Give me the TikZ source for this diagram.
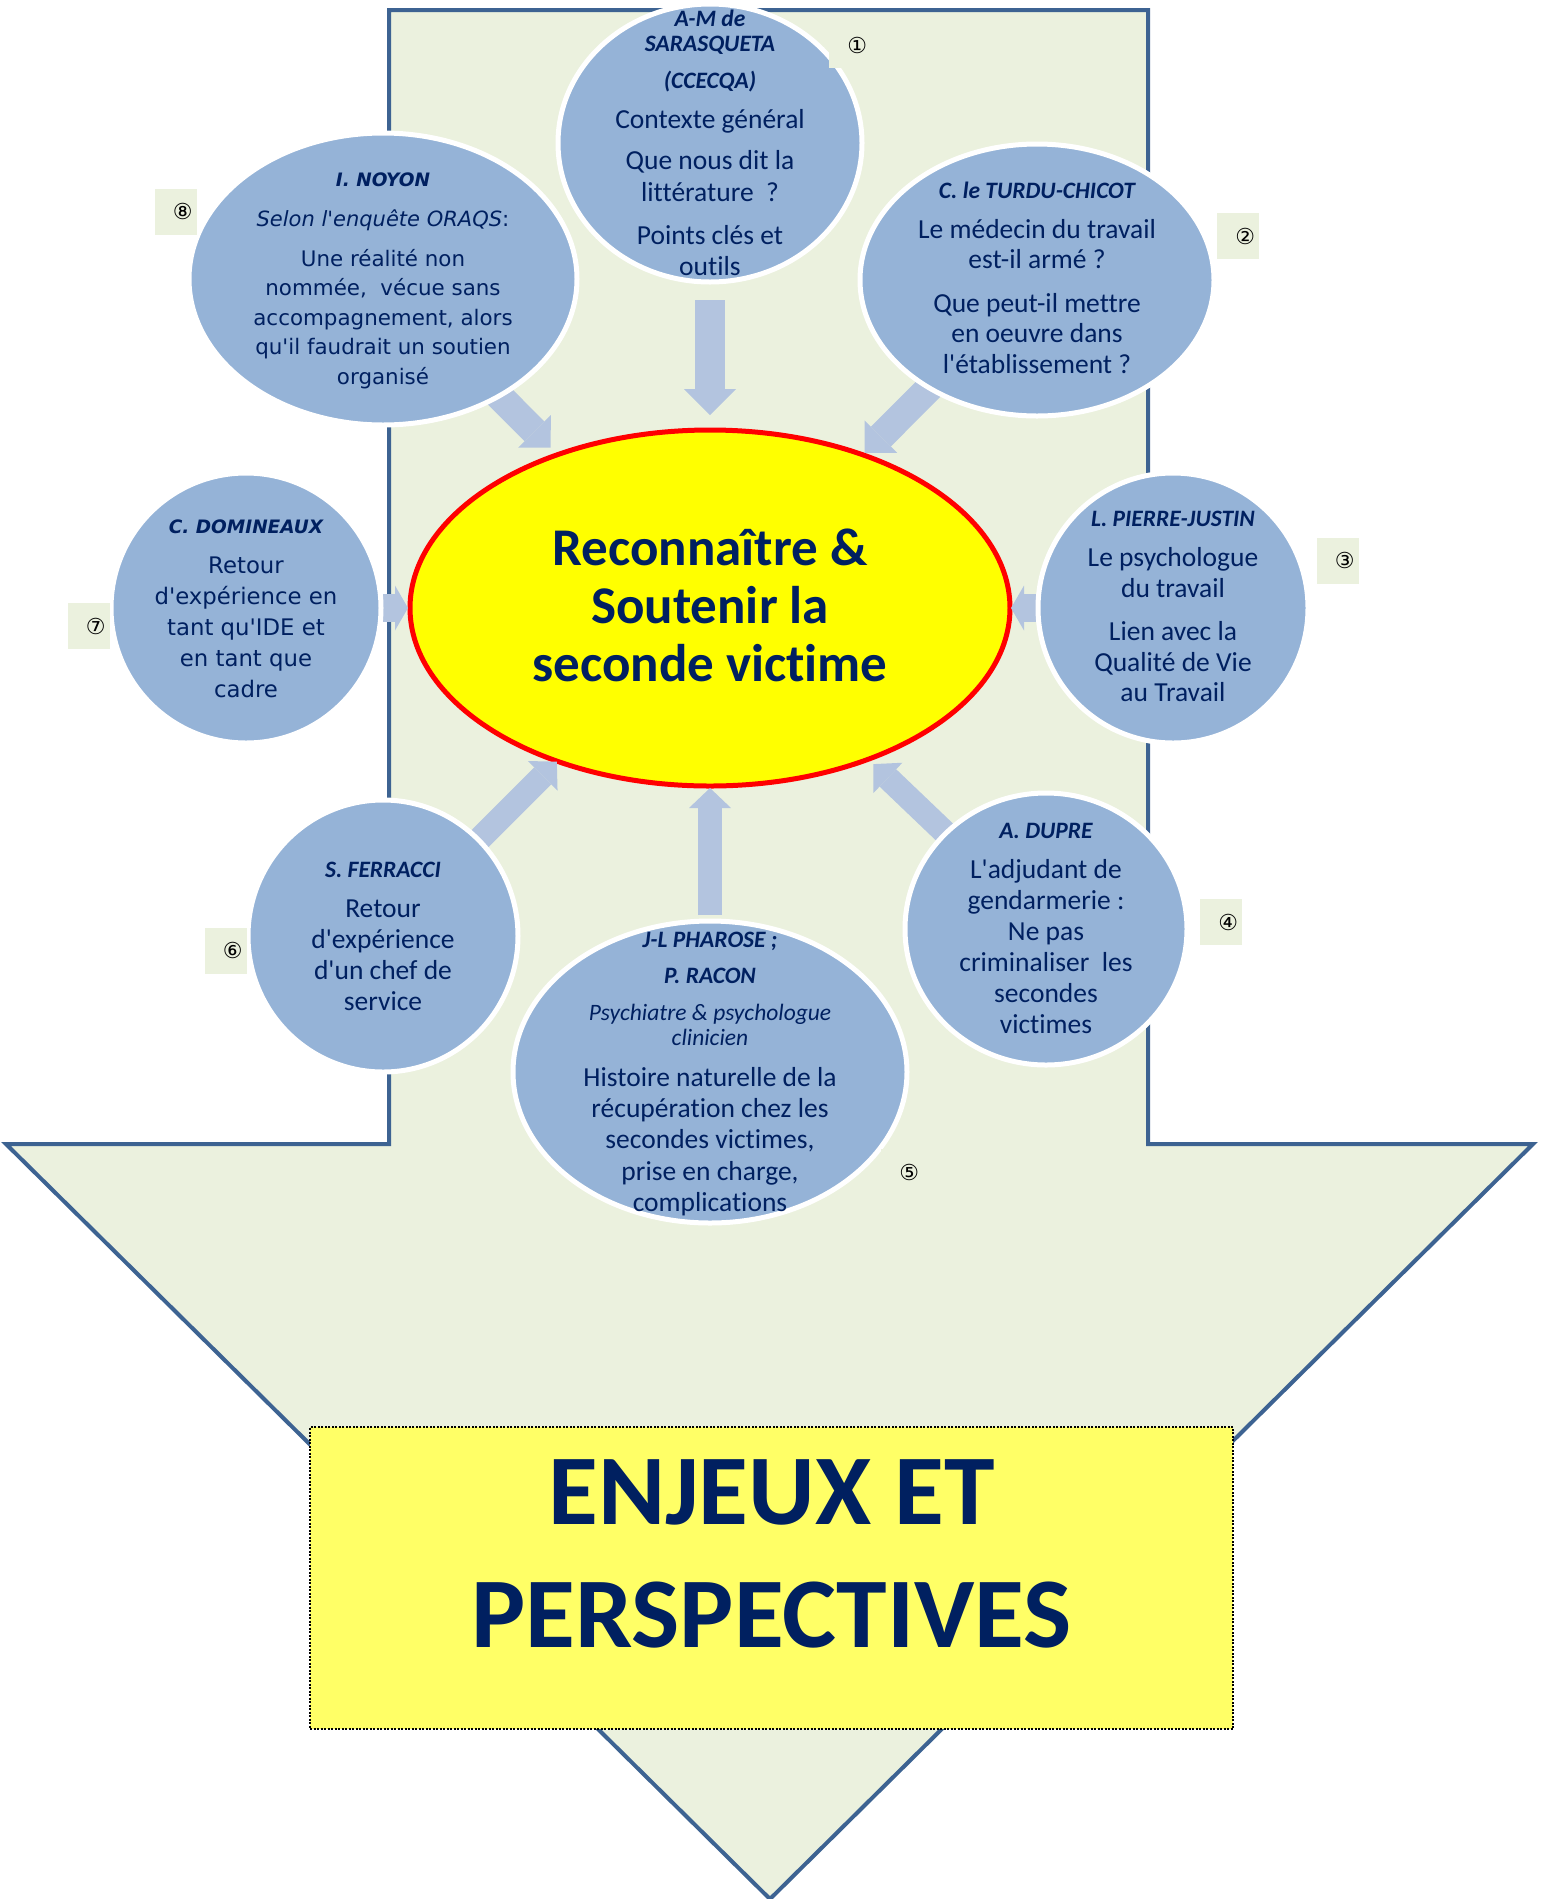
\documentclass[tikz,border=0pt]{standalone}
\usepackage{fontspec}
\setmainfont{Carlito}[Ligatures={TeXOff,NoCommon}]
\newfontfamily\dvfont{DejaVu Sans}[Ligatures={TeXOff,NoCommon}]
\usetikzlibrary{shapes.geometric,arrows.meta}

\definecolor{panel}{HTML}{EBF1DE}
\definecolor{panelline}{HTML}{3D6392}
\definecolor{bubble}{HTML}{95B3D7}
\definecolor{ink}{HTML}{002060}
\definecolor{flow}{HTML}{B3C4DF}
\definecolor{notefill}{HTML}{FFFF66}
\definecolor{hubfill}{HTML}{FFFF00}

\newcommand\bodysize{\fontsize{27.5}{31}\selectfont}
\newcommand\namestyle{\fontsize{23.5}{31}\selectfont\bfseries\itshape}
\newcommand\subtstyle{\fontsize{23.5}{31}\selectfont\itshape}
\newcommand\dvname{\dvfont\fontsize{18.5}{30}\selectfont\bfseries\itshape}
\newcommand\dvsub{\dvfont\fontsize{21}{30}\selectfont\itshape}
\newcommand\firstline[1]{\rule{0pt}{#1}}

\tikzset{
  bubble/.style={ellipse, fill=bubble, draw=white, line width=5pt, inner sep=0pt},
  txt/.style={align=center, inner sep=0pt, anchor=north, text=ink, font=\bodysize},
  flowarrow/.style n args={3}{draw=flow, line width=#1,
    -{Triangle[length=#2, width=#3, line width=0pt]}},
  tagbox/.style={fill=panel, text width=34pt, align=right, inner xsep=4pt,
    inner ysep=0pt, minimum height=46pt, text=black,
    font=\dvfont\fontsize{22}{22}\selectfont},
}

\begin{document}
\begin{tikzpicture}[x=1pt,y=-1pt]
\useasboundingbox (0,0) rectangle (1541,1899);

% large downward arrow forming the background
\draw[panelline, fill=panel, line width=4pt, line join=miter]
  (389,10) -- (1148,10) -- (1148,1144) -- (1533,1144) -- (770,1899)
  -- (6,1144) -- (389,1144) -- cycle;

% conclusion box
\node[fill=notefill, draw=black, line width=2pt, dash pattern=on 2pt off 1.5pt,
      minimum width=923pt, minimum height=302pt, inner sep=0pt] (goal) at (771.5,1578) {};
\node[txt, font=\fontsize{100}{123}\selectfont\bfseries, xscale=1.02] (goaltext) at (771.5,1434)
  {\firstline{90pt}ENJEUX ET\\PERSPECTIVES};

% central theme
\node[ellipse, fill=hubfill, draw=red, line width=5pt, inner sep=0pt,
      minimum width=600pt, minimum height=356pt] (hub) at (710,608) {};
\node[txt, font=\fontsize{53}{58}\selectfont\bfseries] (hubtext) at (710,515)
  {\firstline{50pt}Reconnaître \&\\Soutenir la\\seconde victime};

% speakers
\coordinate (p1) at (710,143);
\coordinate (p2) at (1037,280);
\coordinate (p3) at (1173,608);
\coordinate (p4) at (1046,929);
\coordinate (p5) at (710,1072);
\coordinate (p6) at (383,936);
\coordinate (p7) at (246,608);
\coordinate (p8) at (383,279);

% arrows toward the centre
\draw[flowarrow={30pt}{26pt}{52pt}, shorten <=157pt, shorten >=193pt] (p1) -- (hub.center);
\draw[flowarrow={28pt}{23pt}{46pt}, shorten <=140pt, shorten >=219pt] (p2) -- (hub.center);
\draw[flowarrow={28pt}{13pt}{45pt}, shorten <=100pt, shorten >=301pt] (p3) -- (hub.center);
\draw[flowarrow={24pt}{20pt}{42pt}, shorten <=120pt, shorten >=226pt] (p4) -- (hub.center);
\draw[flowarrow={24pt}{20pt}{42pt}, shorten <=157pt, shorten >=180pt] (p5) -- (hub.center);
\draw[flowarrow={24pt}{20pt}{42pt}, shorten <=120pt, shorten >=217pt] (p6) -- (hub.center);
\draw[flowarrow={28pt}{13pt}{45pt}, shorten <=100pt, shorten >=302pt] (p7) -- (hub.center);
\draw[flowarrow={28pt}{23pt}{46pt}, shorten <=140pt, shorten >=226pt] (p8) -- (hub.center);

\node[bubble, minimum width=304pt, minimum height=278pt] (c1) at (p1) {};
\node[bubble, minimum width=354pt, minimum height=272pt] (c2) at (p2) {};
\node[bubble, minimum width=270pt, minimum height=270pt] (c3) at (p3) {};
\node[bubble, minimum width=282pt, minimum height=272pt] (c4) at (p4) {};
\node[bubble, minimum width=394pt, minimum height=302pt] (c5) at (p5) {};
\node[bubble, minimum width=270pt, minimum height=272pt] (c6) at (p6) {};
\node[bubble, minimum width=270pt, minimum height=270pt] (c7) at (p7) {};
\node[bubble, minimum width=388pt, minimum height=292pt] (c8) at (p8) {};

% texts of the speakers
\node[txt] (t1) at (710,-4)
  {{\namestyle\firstline{30pt}A-M de}\\[-6pt]
   {\namestyle SARASQUETA}\\[6pt]
   {\namestyle (CCECQA)}\\[9pt]
   Contexte général\\[10pt]
   Que nous dit la\\[1pt]
   littérature\ \ ?\\[12pt]
   Points clés et\\
   outils};

\node[txt] (t2) at (1037,168)
  {{\namestyle\firstline{30pt}C. le TURDU-CHICOT}\\[9pt]
   Le médecin du travail\\[-1pt]
   est-il armé ?\\[13pt]
   Que peut-il mettre\\[-1pt]
   en oeuvre dans\\
   l'établissement ?};

\node[txt] (t3) at (1173,496)
  {{\namestyle\firstline{30pt}L. PIERRE-JUSTIN}\\[9pt]
   Le psychologue\\
   du travail\\[12pt]
   Lien avec la\\
   Qualité de Vie\\[-1pt]
   au Travail};

\node[txt] (t4) at (1046,808)
  {{\namestyle\firstline{30pt}A. DUPRE}\\[9pt]
   L'adjudant de\\
   gendarmerie :\\
   Ne pas\\
   criminaliser\ \ les\\
   secondes\\
   victimes};

\node[txt] (t5) at (710,917)
  {{\namestyle\firstline{30pt}J-L PHAROSE ;}\\[5pt]
   {\namestyle P. RACON}\\[6pt]
   {\subtstyle Psychiatre \& psychologue}\\[-6pt]
   {\subtstyle clinicien}\\[10pt]
   Histoire naturelle de la\\
   récupération chez les\\
   secondes victimes,\\[1pt]
   prise en charge,\\
   complications};

\node[txt] (t6) at (383,847)
  {{\namestyle\firstline{30pt}S. FERRACCI}\\[9pt]
   Retour\\
   d'expérience\\
   d'un chef de\\
   service};

\node[txt, font=\dvfont\fontsize{22.8}{31}\selectfont] (t7) at (246,503)
  {{\dvname\firstline{30pt}C. DOMINEAUX}\\[9pt]
   Retour\\
   d'expérience en\\
   tant qu'IDE et\\
   en tant que\\
   cadre};

\node[txt, font=\dvfont\fontsize{21.4}{29.5}\selectfont] (t8) at (383,156)
  {{\dvname\firstline{30pt}I. NOYON}\\[10.5pt]
   {\dvsub Selon l'enquête ORAQS}:\\[10.5pt]
   Une réalité non\\
   nommée,\ \ vécue sans\\
   accompagnement, alors\\
   qu'il faudrait un soutien\\
   organisé};

% order tags
\node[tagbox] (n1) at (850,45) {①};
\node[tagbox] (n2) at (1238,236) {②};
\node[tagbox] (n3) at (1337.5,560.5) {③};
\node[tagbox] (n4) at (1221,922) {④};
\node[tagbox] (n5) at (902,1172) {⑤};
\node[tagbox] (n6) at (225.5,950.5) {⑥};
\node[tagbox] (n7) at (88.5,626) {⑦};
\node[tagbox] (n8) at (175.5,211.5) {⑧};
\end{tikzpicture}
\end{document}
